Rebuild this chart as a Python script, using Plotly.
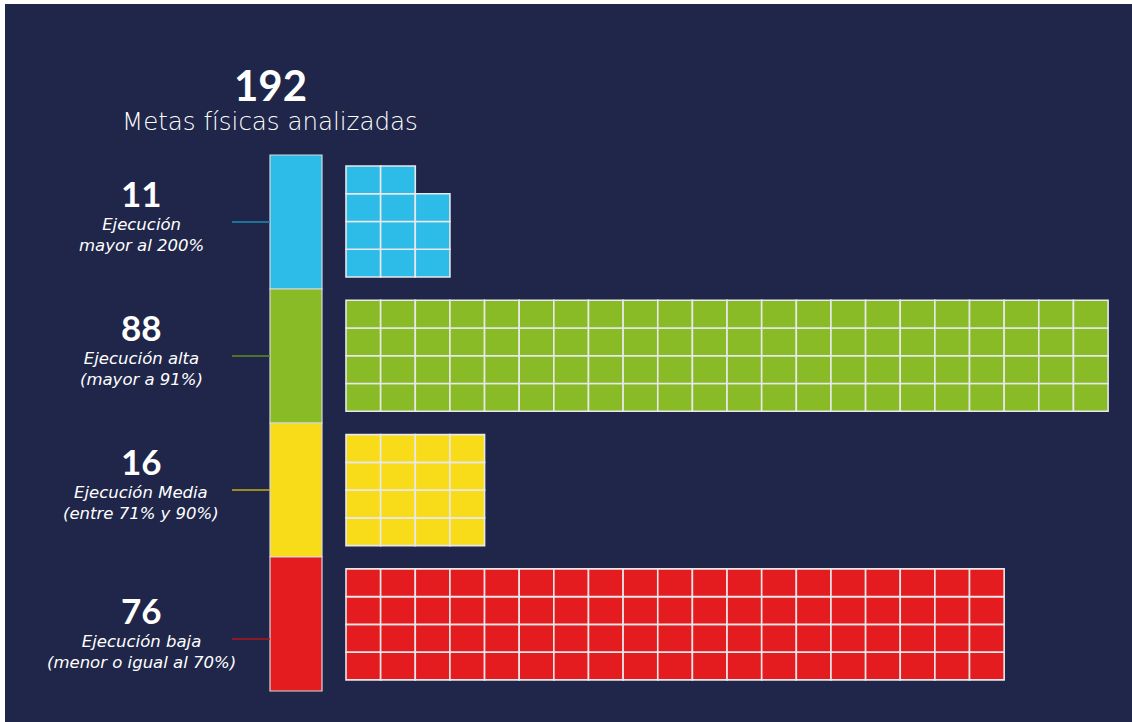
import math
import plotly.graph_objects as go

# ---- data ----
total = 192
title_sub = "Metas físicas analizadas"
categories = ["Ejecución<br>mayor al 200%", "Ejecución alta<br>(mayor a 91%)",
              "Ejecución Media<br>(entre 71% y 90%)", "Ejecución baja<br>(menor o igual al 70%)"]
counts = [11, 88, 16, 76]
colors = ["#2dbbe8", "#88bb26", "#f8dc1a", "#e41b1f"]
line_colors = ["#1f8cb5", "#5f8e1e", "#c7ae14", "#b0161c"]

# ---- layout constants (pixel space) ----
W, H = 1132, 722
NAVY = "#1f2649"
ROWS = 4
CW, CH = 34.64, 27.75
WX0 = 346
BLOCK_TOP0 = 166
BLOCK_STEP = 134.3
BAR_X0, BAR_X1 = 270, 322
BAR_TOP, SEG_H = 155, 134
LINE_X0 = 232
LABEL_X = 141
label_offsets = [0, 0, 0, 15]

fig = go.Figure()
shapes = []
annotations = []

shapes.append(dict(type="rect", xref="x", yref="y", x0=5, y0=4, x1=W + 2, y1=H + 2,
                   fillcolor=NAVY, line=dict(width=0), layer="below"))

for i, (n, c) in enumerate(zip(counts, colors)):
    # stacked vertical bar segment
    s0 = BAR_TOP + i * SEG_H
    shapes.append(dict(type="rect", xref="x", yref="y", x0=BAR_X0, x1=BAR_X1, y0=s0, y1=s0 + SEG_H,
                       fillcolor=c, line=dict(color="#d8d8de", width=1.2)))
    mid = s0 + SEG_H / 2 + label_offsets[i]
    # connector line
    shapes.append(dict(type="line", xref="x", yref="y", x0=LINE_X0, x1=BAR_X0, y0=mid, y1=mid,
                       line=dict(color=line_colors[i], width=1.5)))
    # waffle block
    bottom = BLOCK_TOP0 + i * BLOCK_STEP + ROWS * CH
    for k in range(n):
        col = k // ROWS
        row = k % ROWS
        x0 = WX0 + col * CW
        y1 = bottom - row * CH
        shapes.append(dict(type="rect", xref="x", yref="y", x0=x0, x1=x0 + CW, y0=y1 - CH, y1=y1,
                           fillcolor=c, line=dict(color="#e8e8ea", width=1.6)))
    # labels
    annotations.append(dict(x=LABEL_X, y=mid - 29.5, xref="x", yref="y", text="<b>%d</b>" % n,
                            showarrow=False, xanchor="center", yanchor="middle",
                            font=dict(family="Lato", size=35, color="white")))
    annotations.append(dict(x=LABEL_X, y=mid + 12.5, xref="x", yref="y", text="<i>%s</i>" % categories[i],
                            showarrow=False, xanchor="center", yanchor="middle", align="center",
                            font=dict(family="DejaVu Sans", size=16.5, color="white")))

annotations.append(dict(x=270, y=85, xref="x", yref="y", text="<b>%d</b>" % total, showarrow=False,
                        xanchor="center", yanchor="middle",
                        font=dict(family="Lato", size=42, color="white")))
annotations.append(dict(x=270, y=121, xref="x", yref="y", text=title_sub, showarrow=False,
                        xanchor="center", yanchor="middle",
                        font=dict(family="DejaVu Sans", size=24.5, color="white", weight=300)))

fig.update_layout(
    width=W, height=H, margin=dict(l=0, r=0, t=0, b=0),
    paper_bgcolor="white", plot_bgcolor="rgba(0,0,0,0)",
    xaxis=dict(range=[0, W], visible=False, fixedrange=True),
    yaxis=dict(range=[H, 0], visible=False, fixedrange=True),
    shapes=shapes, annotations=annotations, showlegend=False,
)
fig.write_html("out.html", config={"displayModeBar": False},
               post_script="document.body.style.margin='0';document.body.style.overflow='hidden';")
